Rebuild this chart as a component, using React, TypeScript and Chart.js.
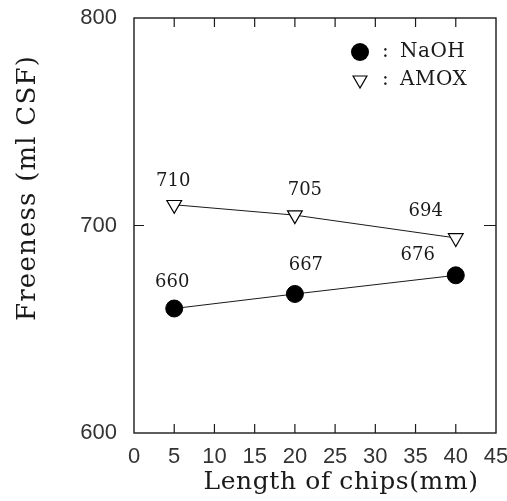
import { useEffect, useRef } from "react";
import { Chart, registerables } from "chart.js";

Chart.register(...registerables);

// ---- data ----
const chipLengths = [5, 20, 40];
const naohFreeness = [660, 667, 676];
const amoxFreeness = [710, 705, 694];
const seriesNames = ["NaOH", "AMOX"];
const xTickValues = [0, 5, 10, 15, 20, 25, 30, 35, 40, 45];
const yTickValues = [600, 700, 800];
const xTitle = "Length of chips(mm)";
const yTitle = "Freeness (ml CSF)";

const INK = "#1a1a1a";
const TICK_INK = "#333";
const SERIF = "'DejaVu Serif', serif";
const SANS = "'Liberation Sans', Arial, sans-serif";

// label nudges (style only): [dx, dy] relative to the point pixel
const labelNudges = [
  [[-2, -26], [11, -29], [-38, -20]],
  [[-1, -23], [10, -25], [-30, -27]],
];

const decorPlugin = {
  id: "decor",
  beforeDatasetsDraw(chart: any) {
    const { ctx, chartArea: a, scales } = chart;
    const xs = scales.x;
    const ys = scales.y;
    ctx.save();
    ctx.strokeStyle = INK;
    ctx.lineWidth = 1.4;
    ctx.strokeRect(a.left, a.top, a.right - a.left, a.bottom - a.top);
    ctx.lineWidth = 1.2;
    ctx.beginPath();
    xTickValues.forEach((v) => {
      if (v === xs.min || v === xs.max) return;
      const px = xs.getPixelForValue(v);
      ctx.moveTo(px, a.bottom);
      ctx.lineTo(px, a.bottom - 9);
      ctx.moveTo(px, a.top);
      ctx.lineTo(px, a.top + 9);
    });
    yTickValues.forEach((v) => {
      if (v === ys.min || v === ys.max) return;
      const py = ys.getPixelForValue(v);
      ctx.moveTo(a.left, py);
      ctx.lineTo(a.left + 10, py);
      ctx.moveTo(a.right, py);
      ctx.lineTo(a.right - 12, py);
    });
    ctx.stroke();
    ctx.restore();
  },
  afterDatasetsDraw(chart: any) {
    const { ctx, chartArea: a } = chart;
    ctx.save();
    ctx.fillStyle = INK;
    // data value labels
    ctx.font = `18px ${SERIF}`;
    ctx.textAlign = "center";
    ctx.textBaseline = "middle";
    chart.data.datasets.forEach((ds: any, di: number) => {
      const meta = chart.getDatasetMeta(di);
      meta.data.forEach((pt: any, i: number) => {
        const [dx, dy] = labelNudges[di][i];
        ctx.fillText(String(ds.data[i].y), pt.x + dx, pt.y + dy);
      });
    });
    // axis titles
    ctx.font = `25px ${SERIF}`;
    (ctx as any).letterSpacing = "0.6px";
    ctx.fillText(xTitle, a.left + 207, a.bottom + 49);
    ctx.save();
    ctx.translate(a.left - 106, a.top + 170);
    ctx.rotate(-Math.PI / 2);
    ctx.font = `26px ${SERIF}`;
    (ctx as any).letterSpacing = "1.2px";
    ctx.fillText(yTitle, 0, 0);
    ctx.restore();
    (ctx as any).letterSpacing = "0px";
    // legend
    const lx = a.left + 226;
    const ly0 = a.top + 34;
    const gap = 28;
    chart.data.datasets.forEach((ds: any, di: number) => {
      const cy = ly0 + di * gap;
      ctx.save();
      ctx.strokeStyle = ds.pointBorderColor;
      ctx.fillStyle = ds.pointBackgroundColor;
      ctx.lineWidth = ds.pointBorderWidth;
      if (ds.pointStyle === "circle") {
        ctx.beginPath();
        ctx.arc(lx, cy, 9, 0, Math.PI * 2);
        ctx.fill();
      } else {
        const r = 8;
        ctx.beginPath();
        ctx.moveTo(lx, cy + r);
        ctx.lineTo(lx - r * 0.866, cy - r * 0.5);
        ctx.lineTo(lx + r * 0.866, cy - r * 0.5);
        ctx.closePath();
        ctx.fill();
        ctx.stroke();
      }
      ctx.restore();
      ctx.fillStyle = INK;
      ctx.font = `20px ${SERIF}`;
      ctx.textAlign = "left";
      ctx.fillText(":", lx + 22, cy);
      (ctx as any).letterSpacing = "0.5px";
      ctx.fillText(ds.label, lx + 40, cy);
      (ctx as any).letterSpacing = "0px";
    });
    ctx.restore();
  },
};

export default function App() {
  const ref = useRef<HTMLCanvasElement | null>(null);
  useEffect(() => {
    if (!ref.current) return;
    const chart = new Chart(ref.current, {
      type: "line",
      data: {
        datasets: [
          {
            label: seriesNames[0],
            data: chipLengths.map((x, i) => ({ x, y: naohFreeness[i] })),
            borderColor: INK,
            borderWidth: 1,
            pointStyle: "circle",
            pointRadius: 8.5,
            pointBackgroundColor: "#000",
            pointBorderColor: "#000",
            pointBorderWidth: 1,
          },
          {
            label: seriesNames[1],
            data: chipLengths.map((x, i) => ({ x, y: amoxFreeness[i] })),
            borderColor: INK,
            borderWidth: 1,
            pointStyle: "triangle",
            pointRotation: 180,
            pointRadius: 8.5,
            pointBackgroundColor: "#fff",
            pointBorderColor: "#000",
            pointBorderWidth: 1.2,
          },
        ],
      },
      options: {
        animation: false,
        responsive: false,
        clip: false as any,
        layout: { padding: { left: 0, top: 18, right: 11, bottom: 0 } },
        plugins: { legend: { display: false }, tooltip: { enabled: false } },
        scales: {
          x: {
            type: "linear",
            min: 0,
            max: 45,
            afterBuildTicks: (s: any) => {
              s.ticks = xTickValues.map((v) => ({ value: v }));
            },
            afterFit: (s: any) => {
              s.height = 68;
              s.paddingLeft = 0;
              s.paddingRight = 0;
            },
            grid: { display: false, drawTicks: false },
            border: { display: false },
            ticks: {
              padding: 11,
              color: TICK_INK,
              maxRotation: 0,
              autoSkip: false,
              font: { family: SANS, size: 22 },
            },
          },
          y: {
            type: "linear",
            min: 600,
            max: 800,
            afterBuildTicks: (s: any) => {
              s.ticks = yTickValues.map((v) => ({ value: v }));
            },
            afterFit: (s: any) => {
              s.width = 134;
              s.paddingTop = 0;
              s.paddingBottom = 0;
            },
            grid: { display: false, drawTicks: false },
            border: { display: false },
            ticks: {
              padding: 17,
              color: TICK_INK,
              font: { family: SANS, size: 22 },
            },
          },
        },
      },
      plugins: [decorPlugin],
    });
    return () => chart.destroy();
  }, []);
  return (
    <div style={{ position: "absolute", left: 0, top: 0, width: 507, height: 501, background: "#fff" }}>
      <canvas ref={ref} width={507} height={501} style={{ display: "block" }} />
    </div>
  );
}
